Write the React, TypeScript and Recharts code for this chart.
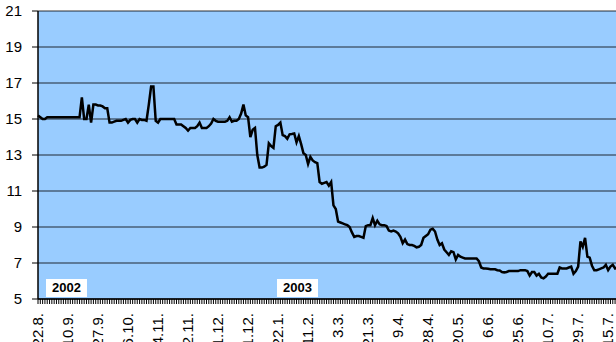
import { CartesianGrid, Line, LineChart, XAxis, YAxis } from "recharts";

// Kurs 2002/2003, täglich.

const values = [
  15.2, 15.1, 15.0, 15.0, 15.1, 15.1, 15.1, 15.1, 15.1, 15.1,
  15.1, 15.1, 15.1, 15.1, 15.1, 15.1, 15.1, 15.1, 15.1, 16.2,
  15.0, 15.0, 15.8, 14.8, 15.8, 15.8, 15.75, 15.75, 15.7, 15.6,
  15.6, 14.8, 14.8, 14.85, 14.9, 14.9, 14.9, 14.95, 15.0, 14.8,
  14.95, 15.0, 15.0, 14.8, 15.0, 14.95, 14.95, 14.9, 15.8, 16.8,
  16.8, 14.9, 14.8, 15.0, 15.0, 15.0, 15.0, 15.0, 15.0, 15.0,
  14.7, 14.7, 14.7, 14.6, 14.5, 14.35, 14.5, 14.5, 14.5, 14.6,
  14.8, 14.5, 14.5, 14.5, 14.6, 14.75, 15.0, 14.9, 14.85, 14.85,
  14.85, 14.85, 14.9, 15.1, 14.85, 14.9, 14.9, 15.0, 15.3, 15.8,
  15.2, 15.1, 14.0, 14.4, 14.5, 13.0, 12.3, 12.3, 12.35, 12.45,
  13.65, 13.5, 13.4, 14.6, 14.67, 14.8, 14.1, 14.05, 13.9, 14.15,
  14.17, 14.2, 13.7, 14.05, 13.6, 13.1, 13.0, 12.5, 12.9, 12.7,
  12.6, 12.55, 11.5, 11.4, 11.45, 11.5, 11.3, 11.5, 10.2, 10.0,
  9.3, 9.25, 9.2, 9.15, 9.1, 9.0, 8.7, 8.45, 8.5, 8.5,
  8.45, 8.4, 9.05, 9.1, 9.1, 9.5, 9.1, 9.35, 9.15, 9.1,
  9.1, 9.05, 8.8, 8.75, 8.8, 8.75, 8.65, 8.45, 8.1, 8.3,
  8.05, 8.0, 8.0, 7.95, 7.87, 7.9, 8.0, 8.4, 8.5, 8.6,
  8.85, 8.9, 8.75, 8.3, 8.0, 8.1, 7.75, 7.6, 7.45, 7.65,
  7.6, 7.2, 7.45, 7.35, 7.3, 7.25, 7.25, 7.25, 7.25, 7.25,
  7.25, 7.1, 6.75, 6.7, 6.7, 6.68, 6.65, 6.65, 6.65, 6.6,
  6.58, 6.5, 6.48, 6.5, 6.55, 6.55, 6.55, 6.55, 6.55, 6.6,
  6.6, 6.6, 6.55, 6.3, 6.5, 6.5, 6.3, 6.4, 6.2, 6.15,
  6.25, 6.4, 6.4, 6.4, 6.4, 6.4, 6.75, 6.7, 6.7, 6.7,
  6.75, 6.8, 6.4, 6.55, 6.8, 8.2, 7.9, 8.4, 7.35, 7.3,
  6.85, 6.6, 6.6, 6.65, 6.7, 6.75, 6.9, 6.6, 6.8, 6.9,
  6.7, 6.75, 6.8, 6.7,
];

// jedes 13. Handelstag beschriftet
const tickLabels = [
  "22.8.", "10.9.", "27.9.", "16.10.", "4.11.", "22.11.", "11.12.", "31.12.",
  "22.1.", "11.2.", "3.3.", "21.3.", "9.4.", "28.4.", "20.5.", "6.6.",
  "25.6.", "10.7.", "29.7.", "15.7.",
];
const LABEL_STEP = 13;

const yTicks = [5, 7, 9, 11, 13, 15, 17, 19, 21];

const FONT = '"Liberation Sans", Arial, sans-serif';

const data = values.map((v, i) => ({ i, v }));

// Strich für jeden Tag, Text nur alle 13 Tage
function XTick(props: any) {
  const { x, y, payload } = props;
  const idx = payload.value as number;
  const label = idx % LABEL_STEP === 0 ? tickLabels[idx / LABEL_STEP] : undefined;
  const ly = y + 7;
  return (
    <g>
      <line x1={x} x2={x} y1={y - 7} y2={y - 2} stroke="#000" strokeWidth={1} />
      {label && (
        <text
          x={x}
          y={ly}
          transform={`rotate(-90 ${x} ${ly})`}
          textAnchor="end"
          dy="0.35em"
          fontSize={15}
          fontFamily={FONT}
          fill="#000"
        >
          {label}
        </text>
      )}
    </g>
  );
}

const yearBox = (left: number): React.CSSProperties => ({
  position: "absolute",
  left,
  top: 279,
  width: 41,
  height: 18,
  background: "#fff",
  fontFamily: FONT,
  fontWeight: "bold",
  fontSize: 13,
  lineHeight: "18px",
  textAlign: "center",
  color: "#000",
});

export default function App() {
  return (
    <div
      style={{
        position: "absolute",
        left: 0,
        top: 0,
        width: 616,
        height: 342,
        overflow: "hidden",
        background: "#fff",
      }}
    >
      <LineChart
        width={624}
        height={342}
        data={data}
        margin={{ top: 11, right: 2, left: 0, bottom: 0 }}
      >
        <CartesianGrid vertical={false} fill="#99CCFF" stroke="#000" strokeOpacity={0.8} />
        <XAxis
          dataKey="i"
          interval={0}
          tickSize={5}
          height={43}
          tick={XTick}
          tickLine={false}
          axisLine={{ stroke: "#000", strokeWidth: 1.5 }}
        />
        <YAxis
          domain={[5, 21]}
          ticks={yTicks}
          width={38}
          tickSize={6}
          tickMargin={10}
          tick={{ fontSize: 15, fill: "#000", fontFamily: FONT }}
          axisLine={{ stroke: "#000", strokeWidth: 1.5 }}
          tickLine={{ stroke: "#000" }}
        />
        <Line
          type="linear"
          dataKey="v"
          stroke="#000"
          strokeWidth={2.5}
          dot={false}
          isAnimationActive={false}
        />
      </LineChart>
      <div style={yearBox(46)}>2002</div>
      <div style={yearBox(277)}>2003</div>
    </div>
  );
}
